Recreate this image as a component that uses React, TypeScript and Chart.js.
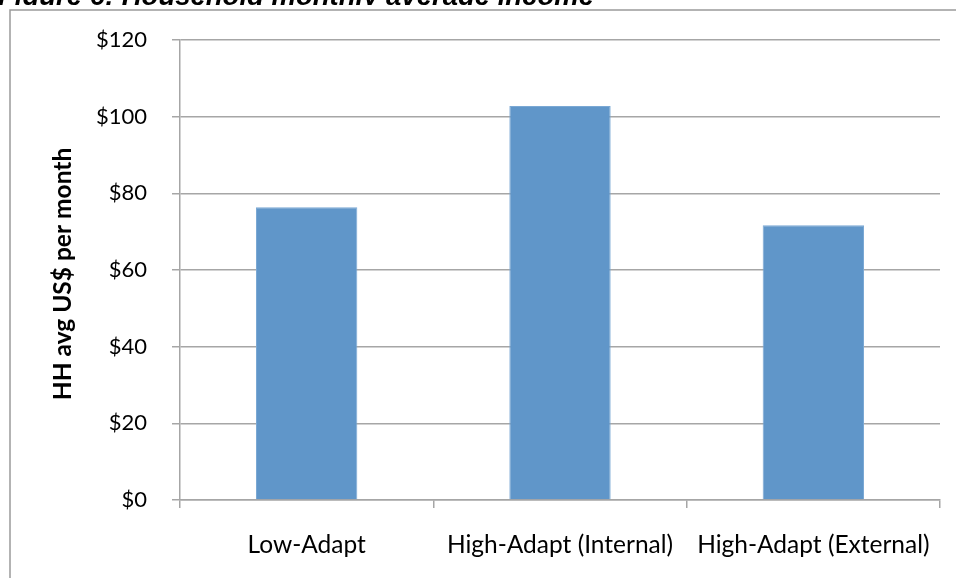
import React, { useEffect, useRef } from "react";
import { Chart, registerables } from "chart.js";

Chart.register(...registerables);

const categories = ["Low-Adapt", "High-Adapt (Internal)", "High-Adapt (External)"];
const incomeValues = [76.4, 102.8, 71.7];
const yTickValues = [0, 20, 40, 60, 80, 100, 120];
const chartTitle = "Figure 6: Household monthly average income";
const yAxisTitle = "HH avg US$ per month";

const W = 956;
const H = 578;
const PLOT_LEFT = 180;
const PLOT_TOP = 40;
const PLOT_RIGHT = 940;
const PLOT_BOTTOM = 500;

const frameAndTitles = {
  id: "frameAndTitles",
  afterDraw(chart: any) {
    const ctx = chart.ctx;
    ctx.save();

    // figure caption; only its lower part shows above the frame
    ctx.save();
    ctx.beginPath();
    ctx.rect(0, 0, W, 5);
    ctx.clip();
    ctx.fillStyle = "#000";
    ctx.font = "italic bold 27.5px 'Liberation Sans', Arial, sans-serif";
    ctx.textBaseline = "alphabetic";
    ctx.textAlign = "left";
    ctx.fillText(chartTitle, -2, 4.5);
    ctx.restore();

    // outer frame (left and top edges in view)
    ctx.strokeStyle = "#9a9a9a";
    ctx.lineWidth = 1.5;
    ctx.beginPath();
    ctx.moveTo(10, H + 2);
    ctx.lineTo(10, 10);
    ctx.lineTo(W + 2, 10);
    ctx.stroke();

    // y axis title
    ctx.translate(63, 274);
    ctx.rotate(-Math.PI / 2);
    ctx.font = "bold 24.5px Lato, sans-serif";
    ctx.fillStyle = "#000";
    ctx.textAlign = "center";
    ctx.textBaseline = "middle";
    ctx.fillText(yAxisTitle, 0, 0);
    ctx.restore();
  },
};

export default function App() {
  const canvasRef = useRef<HTMLCanvasElement>(null);

  useEffect(() => {
    document.body.style.margin = "0";
    const canvas = canvasRef.current;
    if (!canvas) return;
    const chart = new Chart(canvas, {
      type: "bar",
      data: {
        labels: categories,
        datasets: [
          {
            data: incomeValues,
            backgroundColor: "#6096C9",
            borderColor: "#7AA8D4",
            borderWidth: 1,
            categoryPercentage: 1,
            barPercentage: 0.4,
          },
        ],
      },
      plugins: [frameAndTitles],
      options: {
        responsive: false,
        animation: false,
        layout: {
          padding: { left: 0, top: PLOT_TOP, right: W - PLOT_RIGHT, bottom: 0 },
        },
        plugins: {
          legend: { display: false },
          tooltip: { enabled: false },
          title: { display: false },
        },
        scales: {
          x: {
            afterFit(scale: any) {
              scale.height = H - PLOT_BOTTOM;
            },
            grid: {
              offset: true,
              drawOnChartArea: false,
              drawTicks: true,
              tickLength: 8,
              color: "#a6a6a6",
              lineWidth: 1.5,
            },
            border: { display: true, color: "#a6a6a6", width: 1.5 },
            ticks: {
              color: "#000",
              padding: 22,
              maxRotation: 0,
              font: { family: "Lato, sans-serif", size: 24.5 },
            },
          },
          y: {
            min: 0,
            max: 120,
            afterFit(scale: any) {
              scale.width = PLOT_LEFT;
            },
            afterBuildTicks(scale: any) {
              scale.ticks = yTickValues.map((v) => ({ value: v }));
            },
            grid: {
              drawTicks: true,
              tickLength: 8,
              color: "#a6a6a6",
              lineWidth: 1.5,
            },
            border: { display: true, color: "#a6a6a6", width: 1.5 },
            ticks: {
              color: "#000",
              padding: 25,
              font: { family: "Lato, sans-serif", size: 22 },
              callback: (v: any) => "$" + v,
            },
          },
        },
      },
    });
    return () => chart.destroy();
  }, []);

  return (
    <div style={{ position: "fixed", left: 0, top: 0, width: W, height: H, background: "#fff" }}>
      <canvas ref={canvasRef} width={W} height={H} style={{ display: "block" }} />
    </div>
  );
}
